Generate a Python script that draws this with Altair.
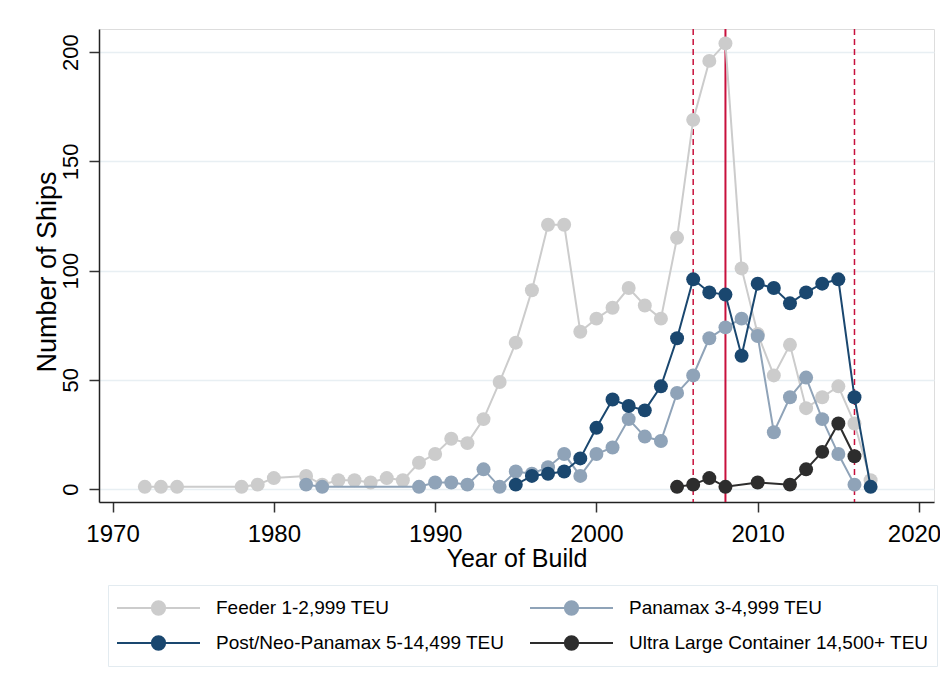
import altair as alt
import pandas as pd

series_names = [
    "Feeder 1-2,999 TEU",
    "Panamax 3-4,999 TEU",
    "Post/Neo-Panamax 5-14,499 TEU",
    "Ultra Large Container 14,500+ TEU",
]
series_colors = ["#cccccc", "#8fa3b8", "#1a476f", "#2d2d2d"]
# legend entries are placed column by column: this order gives
# row 1 = Feeder, Panamax; row 2 = Post/Neo-Panamax, Ultra Large
legend_order = [series_names[0], series_names[2], series_names[1], series_names[3]]

feeder_years = [1972, 1973, 1974, 1978, 1979, 1980, 1982, 1983, 1984, 1985, 1986, 1987, 1988,
                1989, 1990, 1991, 1992, 1993, 1994, 1995, 1996, 1997, 1998, 1999, 2000, 2001,
                2002, 2003, 2004, 2005, 2006, 2007, 2008, 2009, 2010, 2011, 2012, 2013, 2014,
                2015, 2016, 2017]
feeder_counts = [1, 1, 1, 1, 2, 5, 6, 2, 4, 4, 3, 5, 4,
                 12, 16, 23, 21, 32, 49, 67, 91, 121, 121, 72, 78, 83,
                 92, 84, 78, 115, 169, 196, 204, 101, 71, 52, 66, 37, 42,
                 47, 30, 4]

panamax_years = [1982, 1983, 1989, 1990, 1991, 1992, 1993, 1994, 1995, 1996, 1997, 1998, 1999,
                 2000, 2001, 2002, 2003, 2004, 2005, 2006, 2007, 2008, 2009, 2010, 2011, 2012,
                 2013, 2014, 2015, 2016]
panamax_counts = [2, 1, 1, 3, 3, 2, 9, 1, 8, 7, 10, 16, 6,
                  16, 19, 32, 24, 22, 44, 52, 69, 74, 78, 70, 26, 42,
                  51, 32, 16, 2]

post_years = [1995, 1996, 1997, 1998, 1999, 2000, 2001, 2002, 2003, 2004, 2005, 2006, 2007,
              2008, 2009, 2010, 2011, 2012, 2013, 2014, 2015, 2016, 2017]
post_counts = [2, 6, 7, 8, 14, 28, 41, 38, 36, 47, 69, 96, 90,
               89, 61, 94, 92, 85, 90, 94, 96, 42, 1]

ultra_years = [2005, 2006, 2007, 2008, 2010, 2012, 2013, 2014, 2015, 2016]
ultra_counts = [1, 2, 5, 1, 3, 2, 9, 17, 30, 15]

dashed_years = [2006, 2016]
solid_years = [2008]

x_ticks = [1970, 1980, 1990, 2000, 2010, 2020]
y_ticks = [0, 50, 100, 150, 200]

rows = []
for name, ys, cs in zip(series_names,
                        [feeder_years, panamax_years, post_years, ultra_years],
                        [feeder_counts, panamax_counts, post_counts, ultra_counts]):
    for yr, c in zip(ys, cs):
        rows.append({"year": yr, "count": c, "series": name})
df = pd.DataFrame(rows)

FONT = "Liberation Sans"
RED = "#c8103c"

x_enc = alt.X(
    "year:Q",
    scale=alt.Scale(domain=[1969.16, 2020.93], nice=False, zero=False),
    axis=alt.Axis(
        values=x_ticks, format="d", title="Year of Build",
        labelFontSize=24, titleFontSize=25, tickSize=10, labelPadding=29.7,
        labelBaseline="alphabetic", grid=False, domainColor="#222222",
        tickColor="#333333", domainWidth=1.5, tickWidth=1.5,
        labelOffset={"condition": {"test": "datum.value == 2020", "value": -5}, "value": 0},
        titleX=417.5, titleY=64, titleBaseline="alphabetic", titleAlign="center",
        labelColor="black", titleColor="black", titleFontWeight="normal",
        labelFont=FONT, titleFont=FONT, labelFlush=False, labelOverlap=False,
    ),
)
y_enc = alt.Y(
    "count:Q",
    scale=alt.Scale(domain=[-5.95, 210.6], nice=False, zero=False),
    axis=alt.Axis(
        values=y_ticks, title="Number of Ships",
        labelAngle=270, labelAlign="center", labelBaseline="alphabetic",
        labelPadding=12, tickSize=10, grid=True, gridColor="#e8eff3", gridWidth=1.5,
        domainColor="#222222", tickColor="#333333", domainWidth=1.5, tickWidth=1.5,
        titleAngle=270, titleX=-51.5, titleY=242.5, titleAlign="center",
        titleBaseline="middle", titleFontSize=27, labelFontSize=22,
        labelColor="black", titleColor="black", titleFontWeight="normal",
        labelFont=FONT, titleFont=FONT, labelFlush=False, labelOverlap=False,
    ),
)

legend = alt.Legend(
    title=None, orient="none", legendX=9, legendY=556, columns=2,
    values=legend_order,
    columnPadding=24, rowPadding=5, clipHeight=30, padding=8,
    labelFontSize=19, labelFont=FONT, labelColor="black", labelLimit=0,
    labelOffset=15, symbolSize=6889, symbolStrokeWidth=2,
    symbolType="M-1,0H-0.16A0.16,0.16,0,1,1,0.16,0A0.16,0.16,0,1,1,-0.16,0M0.16,0H1",
    strokeColor="#e3ebf0", fillColor="white", symbolOpacity=1,
)
color_enc = alt.Color(
    "series:N",
    scale=alt.Scale(domain=series_names, range=series_colors),
    legend=legend,
)

rules_dashed = alt.Chart(pd.DataFrame({"year": dashed_years})).mark_rule(
    color=RED, strokeWidth=1.5, strokeDash=[6, 4]
).encode(x=x_enc)
rules_solid = alt.Chart(pd.DataFrame({"year": solid_years})).mark_rule(
    color=RED, strokeWidth=2
).encode(x=x_enc)

layers = [rules_dashed, rules_solid]
for name in series_names:
    base = alt.Chart(df).transform_filter(alt.datum.series == name)
    layers.append(base.mark_line(strokeWidth=2).encode(x=x_enc, y=y_enc, color=color_enc))
    layers.append(base.mark_circle(size=195, opacity=1).encode(x=x_enc, y=y_enc, color=color_enc))

chart = alt.layer(*layers).properties(
    width=835, height=473,
    autosize=alt.AutoSizeParams(type="none"),
    padding={"left": 91, "top": 21, "right": 6, "bottom": 180},
).configure_view(stroke=None).configure(background="white")

chart.save("out.html", embed_options={"renderer": "svg", "actions": False})
